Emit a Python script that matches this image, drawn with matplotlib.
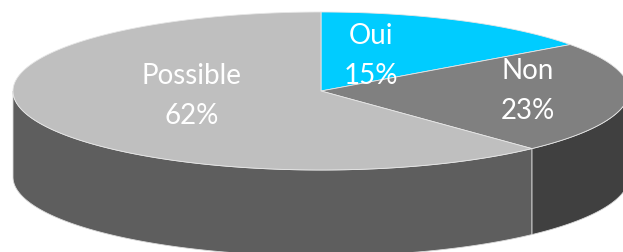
import numpy as np
import matplotlib
matplotlib.use("Agg")
import matplotlib.pyplot as plt
from matplotlib.patches import Polygon

labels = ["Oui", "Non", "Possible"]
values = [15, 23, 62]
top_colors = ["#00CCFF", "#808080", "#BFBFBF"]
side_colors = ["#0099BF", "#404040", "#5E5E5E"]

# pie geometry in pixels (y goes down)
cx, cy = 321, 92
a, b = 308, 79
depth = 86

W, H = 623, 253
fig = plt.figure(figsize=(W / 100, H / 100), dpi=100)
ax = fig.add_axes([0, 0, 1, 1])
ax.set_xlim(0, W)
ax.set_ylim(H, 0)
ax.axis("off")


def pt(t, dy=0):
    t = np.radians(t)
    return cx + a * np.cos(t), cy - b * np.sin(t) + dy


cum = np.cumsum([0] + values) / sum(values)
starts = 90 - 360 * cum[:-1]
ends = 90 - 360 * cum[1:]

# sides (front half only: angles between -180 and 0)
for s, e, col in zip(starts, ends, side_colors):
    for k in (-360, 0, 360):
        lo = max(e + k, -180)
        hi = min(s + k, 0)
        if hi <= lo:
            continue
        t = np.linspace(lo, hi, 200)
        xs, ys = pt(t)
        xb, yb = pt(t[::-1], depth)
        poly = np.column_stack([np.r_[xs, xb], np.r_[ys, yb]])
        ax.add_patch(Polygon(poly, closed=True, facecolor=col,
                             edgecolor="#d9d9d9", lw=0.6))

# top faces
for s, e, col in zip(starts, ends, top_colors):
    t = np.linspace(s, e, 300)
    xs, ys = pt(t)
    poly = np.column_stack([np.r_[cx, xs], np.r_[cy, ys]])
    ax.add_patch(Polygon(poly, closed=True, facecolor=col,
                         edgecolor="#e6e6e6", lw=0.6))

# data labels
label_pos = [(371, 56), (528, 91), (192, 96)]
for (lx, ly), lab, v in zip(label_pos, labels, values):
    ax.text(lx, ly, f"{lab}\n{v}%", color="white", ha="center", va="center",
            fontsize=20, family="Lato", linespacing=1.65)

fig.savefig("out.png", dpi=100)
